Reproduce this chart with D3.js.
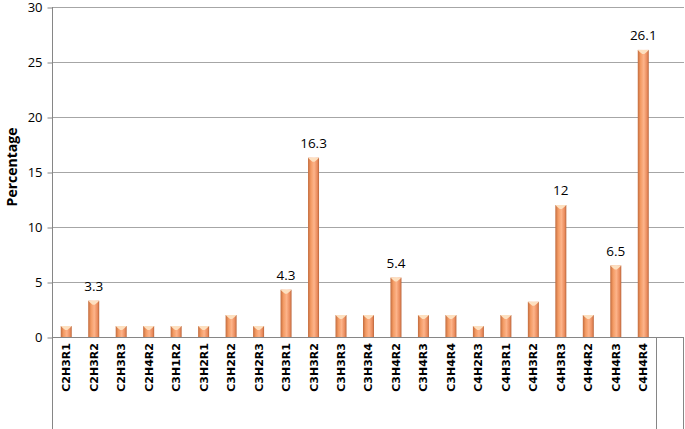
<!DOCTYPE html>
<html><head><meta charset="utf-8">
<script src="https://cdn.jsdelivr.net/npm/d3@7/dist/d3.min.js"></script>
<style>body{margin:0;background:#fff}svg{display:block}</style>
</head><body>
<script>
const categories = ["C2H3R1","C2H3R2","C2H3R3","C2H4R2","C3H1R2","C3H2R1","C3H2R2","C3H2R3","C3H3R1","C3H3R2","C3H3R3","C3H3R4","C3H4R2","C3H4R3","C3H4R4","C4H2R3","C4H3R1","C4H3R2","C4H3R3","C4H4R2","C4H4R3","C4H4R4"];
const values = [1,3.3,1,1,1,1,2,1,4.3,16.3,2,2,5.4,2,2,1,2,3.2,12,2,6.5,26.1];
const labelled = ["C2H3R2","C3H3R1","C3H3R2","C3H4R2","C4H3R3","C4H4R3","C4H4R4"];
const yTicks = [0,5,10,15,20,25,30];
const yTitle = "Percentage";

(function(){
const W = 685, H = 429;
const svg = d3.select("body").append("svg").attr("width", W).attr("height", H);
const font = "'Open Sans', Lato, sans-serif";

const pLeft = 52, pRight = 684, pTop = 7, base = 337;
const x = d3.scaleBand().domain(categories).range([52.5, 657]).paddingInner(0.6).paddingOuter(0.3);
const y = d3.scaleLinear().domain([0, 30]).range([base, pTop]);

const defs = svg.append("defs");
const g1 = defs.append("linearGradient").attr("id","barg").attr("x1","0").attr("x2","1").attr("y1","0").attr("y2","0");
g1.append("stop").attr("offset","0%").attr("stop-color","#c26b3d");
g1.append("stop").attr("offset","25%").attr("stop-color","#f39a63");
g1.append("stop").attr("offset","55%").attr("stop-color","#fdb48a");
g1.append("stop").attr("offset","85%").attr("stop-color","#e98a5b");
g1.append("stop").attr("offset","100%").attr("stop-color","#b8643a");

// gridlines
svg.append("g").selectAll("line").data(yTicks.filter(d=>d>0)).join("line")
  .attr("x1", pLeft).attr("x2", pRight).attr("y1", d=>y(d)+0.5).attr("y2", d=>y(d)+0.5)
  .attr("stroke", "#a6a6a6").attr("stroke-width", 1);

// y axis
const yAxis = d3.axisLeft(y).tickValues(yTicks).tickSize(5).tickPadding(5);
const ya = svg.append("g").attr("transform", `translate(${pLeft+0.5},0)`).call(yAxis);
ya.select(".domain").remove();
ya.selectAll(".tick line").attr("stroke","#868686").attr("transform","translate(0,0.5)");
ya.selectAll(".tick text").attr("font-family", font).attr("font-size", 13).attr("fill","#000").attr("dy","0.36em");
svg.append("line").attr("x1", pLeft+0.5).attr("x2", pLeft+0.5).attr("y1", pTop).attr("y2", H)
  .attr("stroke", "#868686");

// x axis line and category boxes
svg.append("line").attr("x1", pLeft).attr("x2", pRight).attr("y1", base+0.5).attr("y2", base+0.5).attr("stroke","#868686");
const xEnd = 656.5;
svg.append("line").attr("x1", xEnd).attr("x2", xEnd).attr("y1", base).attr("y2", H).attr("stroke","#868686");
svg.append("line").attr("x1", pRight-0.5).attr("x2", pRight-0.5).attr("y1", base).attr("y2", H).attr("stroke","#868686");

// bars
const bars = svg.append("g").selectAll("g").data(categories).join("g");
bars.append("rect")
  .attr("x", d=>x(d)).attr("width", x.bandwidth())
  .attr("y", (d,i)=>y(values[i])).attr("height", (d,i)=>base - y(values[i]))
  .attr("fill","url(#barg)");
bars.append("path")
  .attr("d", (d,i)=>{
    const x0 = x(d), w = x.bandwidth(), yt = y(values[i]);
    return `M${x0},${yt} L${x0+w},${yt} L${x0+w-2},${yt+2} L${x0+w/2+1},${yt+4} L${x0+w/2-1},${yt+4} L${x0+2},${yt+2} Z`;
  })
  .attr("fill","#fde0c0");

// value labels
svg.append("g").selectAll("text").data(categories.filter(c=>labelled.includes(c))).join("text")
  .attr("x", d=>x(d)+x.bandwidth()/2)
  .attr("y", d=>y(values[categories.indexOf(d)]) - 10)
  .attr("text-anchor","middle").attr("font-family", font).attr("font-size", 13.5).attr("fill","#000")
  .text(d=>String(values[categories.indexOf(d)]));

// category labels
svg.append("g").selectAll("text").data(categories).join("text")
  .attr("transform", d=>`translate(${x(d)+x.bandwidth()/2+4},${base+6}) rotate(-90)`)
  .attr("text-anchor","end").attr("font-family", "'DejaVu Sans', sans-serif").attr("font-size", 11).attr("font-weight","bold").attr("fill","#000")
  .text(d=>d);

// y title
svg.append("text").attr("transform", `translate(17,167) rotate(-90)`)
  .attr("text-anchor","middle").attr("font-family", font).attr("font-size", 14).attr("font-weight","bold")
  .text(yTitle);
})();
</script>
</body></html>
